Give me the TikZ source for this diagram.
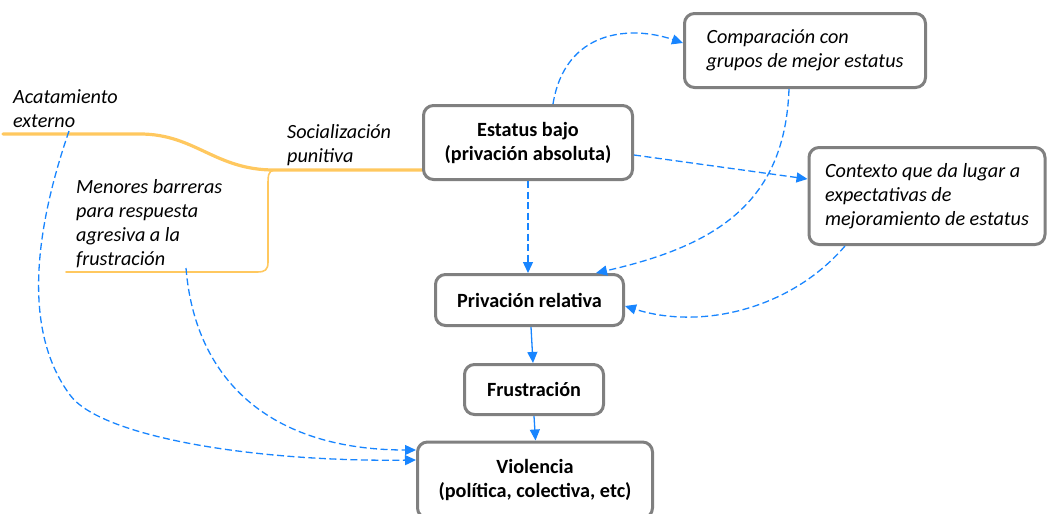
\documentclass[tikz,border=0pt]{standalone}
\usepackage{fontspec}
\setmainfont{Carlito}
\usetikzlibrary{arrows.meta}
\definecolor{boxgray}{RGB}{128,128,128}
\definecolor{flowblue}{RGB}{24,133,255}
\definecolor{branchorange}{RGB}{255,200,95}

\begin{document}
\begin{tikzpicture}[x=1pt,y=-1pt,
  box/.style={draw=boxgray, line width=3pt, rounded corners=10pt, fill=white,
    inner sep=0pt, align=center, font=\fontsize{20.2}{24}\selectfont\bfseries},
  ibox/.style={box, align=left, font=\fontsize{20.2}{24}\selectfont\itshape},
  lbl/.style={inner sep=0pt, align=left, anchor=west,
    font=\fontsize{20.2}{24}\selectfont\itshape},
  tipstyle/.style={-{Triangle[length=11pt,width=10pt]}},
  dashlink/.style={draw=flowblue, line width=1.3pt, dash pattern=on 7pt off 3.5pt, tipstyle},
  solidlink/.style={draw=flowblue, line width=1.3pt, tipstyle},
  thickbranch/.style={draw=branchorange, line width=3.2pt, line cap=round},
  thinbranch/.style={draw=branchorange, line width=1.6pt, line cap=round}]

\useasboundingbox (0,0) rectangle (1047,514);

% side labels
\node[lbl] (acat) at (13,109) {Acatamiento\\externo};
\node[lbl] (soc) at (287,145.5) {Socialización\\punitiva};
\node[lbl] (men) at (76,223.5) {Menores barreras\\para respuesta\\agresiva a la\\frustración};

% orange branches feeding the low-status box
\coordinate (trunk) at (3,134);
\coordinate (fork) at (274,170);
\coordinate (twig) at (66,272);
\coordinate (branchend) at (430,170);
\draw[thickbranch] (trunk) -- (140,134)
  .. controls (195,134) and (215,170) .. (fork) -- (branchend);
\draw[thinbranch] (fork) .. controls (268,171) and (268,176) .. (268,186)
  -- (268,262) .. controls (268,270) and (265,272) .. (257,272) -- (twig);

% boxes
\node[box, minimum width=209pt, minimum height=74pt] (est) at (528,142.5)
  {Estatus bajo\\(privación absoluta)};
\node[ibox, minimum width=241pt, minimum height=74pt] (comp) at (805,50.5)
  {Comparación con\\grupos de mejor estatus};
\node[ibox, minimum width=236pt, minimum height=97pt] (ctx) at (927,196)
  {Contexto que da lugar a\\expectativas de\\mejoramiento de estatus};
\node[box, minimum width=188pt, minimum height=51pt] (prel) at (529.5,300)
  {Privación relativa};
\node[box, minimum width=139pt, minimum height=50pt] (frus) at (534,389.5)
  {Frustración};
\node[box, minimum width=235pt, minimum height=76pt] (viol) at (535,480)
  {Violencia\\(política, colectiva, etc)};

% dashed influences
\coordinate (acatfoot) at (69,131);
\coordinate (menfoot) at (186,268);
\draw[dashlink] (acatfoot) .. controls (35,230) and (22,330) .. (70,395)
  .. controls (100,436) and (250,462) .. ([yshift=20pt]viol.west);
\draw[dashlink] (menfoot) .. controls (195,380) and (270,450) .. ([yshift=30pt]viol.west);
\draw[dashlink] ([xshift=25pt]est.north) .. controls (565,30) and (630,25) .. ([yshift=7.5pt]comp.west);
\draw[dashlink] ([yshift=-12.5pt]est.east) -- ([yshift=17pt]ctx.west);
\draw[dashlink] ([xshift=-16pt]comp.south) .. controls (785,200) and (720,245) .. ([xshift=66.5pt]prel.north);
\draw[dashlink] (est.south) -- (est.south |- prel.north);
\draw[dashlink] ([xshift=-82pt]ctx.south) .. controls (790,310) and (700,330) .. ([yshift=-6pt]prel.east);

% main causal chain
\draw[solidlink] ([xshift=1.5pt]prel.south) -- ([xshift=-1pt]frus.north);
\draw[solidlink] (frus.south) -- ([xshift=0.5pt]viol.north);

\end{tikzpicture}
\end{document}
